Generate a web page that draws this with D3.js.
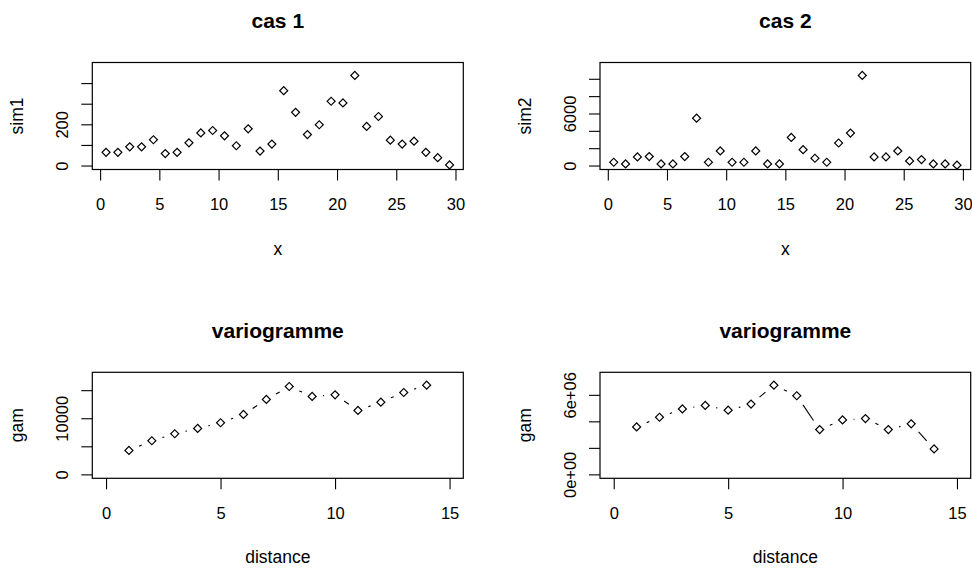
<!DOCTYPE html>
<html>
<head>
<meta charset="utf-8">
<script src="https://cdn.jsdelivr.net/npm/d3@7"></script>
<style>
  html, body { margin: 0; padding: 0; background: #ffffff; }
  svg { display: block; font-family: "Liberation Sans", Arial, sans-serif; }
</style>
</head>
<body>
<svg id="chart" width="972" height="568"></svg>
<script>
// ---------- data ----------
const xSim = [0.5,1.5,2.5,3.5,4.5,5.5,6.5,7.5,8.5,9.5,10.5,11.5,12.5,13.5,14.5,15.5,16.5,17.5,18.5,19.5,20.5,21.5,22.5,23.5,24.5,25.5,26.5,27.5,28.5,29.5];
const sim1 = [64,64,91,91,125,58,64,110,158,170,144,96,178,70,104,363,258,150,198,312,304,437,190,238,123,104,118,64,38,3];
const sim2 = [382,191,992,1030,191,191,1030,5458,382,1680,382,382,1680,191,191,3244,1832,840,382,2596,3740,10382,992,992,1680,534,687,191,191,38];

const distance = [1,2,3,4,5,6,7,8,9,10,11,12,13,14];
const gam1 = [4270,5990,7236,8185,9193,10676,13345,15658,13879,14176,11388,12871,14591,15896];
const gam2 = [3.58e6,4.31e6,4.94e6,5.20e6,4.84e6,5.30e6,6.73e6,5.93e6,3.38e6,4.11e6,4.21e6,3.38e6,3.81e6,1.92e6];

const xTicksSim = [0,5,10,15,20,25,30];
const xTicksDist = [0,5,10,15];
const yTicks1 = [0,100,200,300,400];
const yLabels1 = ["0","","200","",""];
const yTicks2 = [0,2000,4000,6000,8000,10000];
const yLabels2 = ["0","","","6000","",""];
const yTicksG1 = [0,5000,10000,15000];
const yLabelsG1 = ["0","","10000",""];
const yTicksG2 = [0,2e6,4e6,6e6];
const yLabelsG2 = ["0e+00","","","6e+06"];

const panels = [
  {title:"cas 1", xlab:"x", ylab:"sim1", xs:xSim, ys:sim1, xTicks:xTicksSim, yTicks:yTicks1, yLabels:yLabels1, type:"p", col:0, row:0},
  {title:"cas 2", xlab:"x", ylab:"sim2", xs:xSim, ys:sim2, xTicks:xTicksSim, yTicks:yTicks2, yLabels:yLabels2, type:"p", col:1, row:0},
  {title:"variogramme", xlab:"distance", ylab:"gam", xs:distance, ys:gam1, xTicks:xTicksDist, yTicks:yTicksG1, yLabels:yLabelsG1, type:"b", col:0, row:1, xlim:[0,15]},
  {title:"variogramme", xlab:"distance", ylab:"gam", xs:distance, ys:gam2, xTicks:xTicksDist, yTicks:yTicksG2, yLabels:yLabelsG2, type:"b", col:1, row:1, xlim:[0,15]}
];

// ---------- layout ----------
const colX = [[92.3, 463.3], [600, 970.7]];
const rowY = [[62.5, 169.5], [372.3, 478.3]];
const svg = d3.select("#chart");
const tickFont = 16.5, labFont = 17.5, titleFont = 21;

function pad(lo, hi) { const d = (hi - lo) * 0.04; return [lo - d, hi + d]; }

panels.forEach(p => {
  const [x0, x1] = colX[p.col];
  const [y0, y1] = rowY[p.row];
  const xl = p.xlim || d3.extent(p.xs);
  const yl = [0, 1.1 * d3.max(p.ys)];
  const x = d3.scaleLinear().domain(pad(xl[0], xl[1])).range([x0, x1]);
  const y = d3.scaleLinear().domain(pad(yl[0], yl[1])).range([y1, y0]);
  const g = svg.append("g");

  // x axis
  const xa = g.append("g").attr("transform", `translate(0,${y1})`)
    .call(d3.axisBottom(x).tickValues(p.xTicks).tickSize(11).tickSizeOuter(0).tickFormat(d3.format("d")));
  xa.select(".domain").remove();
  xa.selectAll("line").attr("stroke", "#000").attr("stroke-width", 1.1);
  xa.selectAll("text").attr("y", 40.5).attr("dy", null).attr("fill", "#000")
    .attr("font-size", tickFont).attr("font-family", "Liberation Sans, Arial, sans-serif");

  // y axis
  const ya = g.append("g").attr("transform", `translate(${x0},0)`)
    .call(d3.axisLeft(y).tickValues(p.yTicks).tickSize(11).tickSizeOuter(0)
      .tickFormat((d, i) => p.yLabels[i]));
  ya.select(".domain").remove();
  ya.selectAll("line").attr("stroke", "#000").attr("stroke-width", 1.1);
  ya.selectAll("text").attr("x", null).attr("dy", null).attr("y", null)
    .attr("transform", "translate(-24,0) rotate(-90)")
    .attr("text-anchor", "middle").attr("fill", "#000")
    .attr("font-size", tickFont).attr("font-family", "Liberation Sans, Arial, sans-serif");

  // box
  g.append("rect").attr("x", x0).attr("y", y0).attr("width", x1 - x0).attr("height", y1 - y0)
    .attr("fill", "none").attr("stroke", "#000").attr("stroke-width", 1.2);

  // lines for type "b" (gapped segments)
  if (p.type === "b") {
    const gap = 11;
    for (let i = 0; i < p.xs.length - 1; i++) {
      const ax = x(p.xs[i]), ay = y(p.ys[i]), bx = x(p.xs[i+1]), by = y(p.ys[i+1]);
      const dx = bx - ax, dy = by - ay, len = Math.hypot(dx, dy);
      if (len <= 2 * gap) continue;
      const ux = dx / len, uy = dy / len;
      g.append("line")
        .attr("x1", ax + ux * gap).attr("y1", ay + uy * gap)
        .attr("x2", bx - ux * gap).attr("y2", by - uy * gap)
        .attr("stroke", "#000").attr("stroke-width", 1.1);
    }
  }

  // points (open diamonds)
  const sym = d3.symbol().type(d3.symbolSquare).size(32);
  g.selectAll("path.pt").data(p.xs.map((v, i) => [v, p.ys[i]])).enter().append("path")
    .attr("class", "pt")
    .attr("d", sym)
    .attr("transform", d => `translate(${x(d[0])},${y(d[1])}) rotate(45)`)
    .attr("fill", "none").attr("stroke", "#000").attr("stroke-width", 1.2);

  // title
  g.append("text").attr("x", (x0 + x1) / 2).attr("y", y0 - 34.5)
    .attr("text-anchor", "middle").attr("font-weight", "bold").attr("font-size", titleFont)
    .attr("fill", "#000").text(p.title);
  // x label
  g.append("text").attr("x", (x0 + x1) / 2).attr("y", y1 + 85)
    .attr("text-anchor", "middle").attr("font-size", labFont).attr("fill", "#000").text(p.xlab);
  // y label
  g.append("text").attr("transform", `translate(${x0 - 69},${(y0 + y1) / 2}) rotate(-90)`)
    .attr("text-anchor", "middle").attr("font-size", labFont).attr("fill", "#000").text(p.ylab);
});
</script>
</body>
</html>
